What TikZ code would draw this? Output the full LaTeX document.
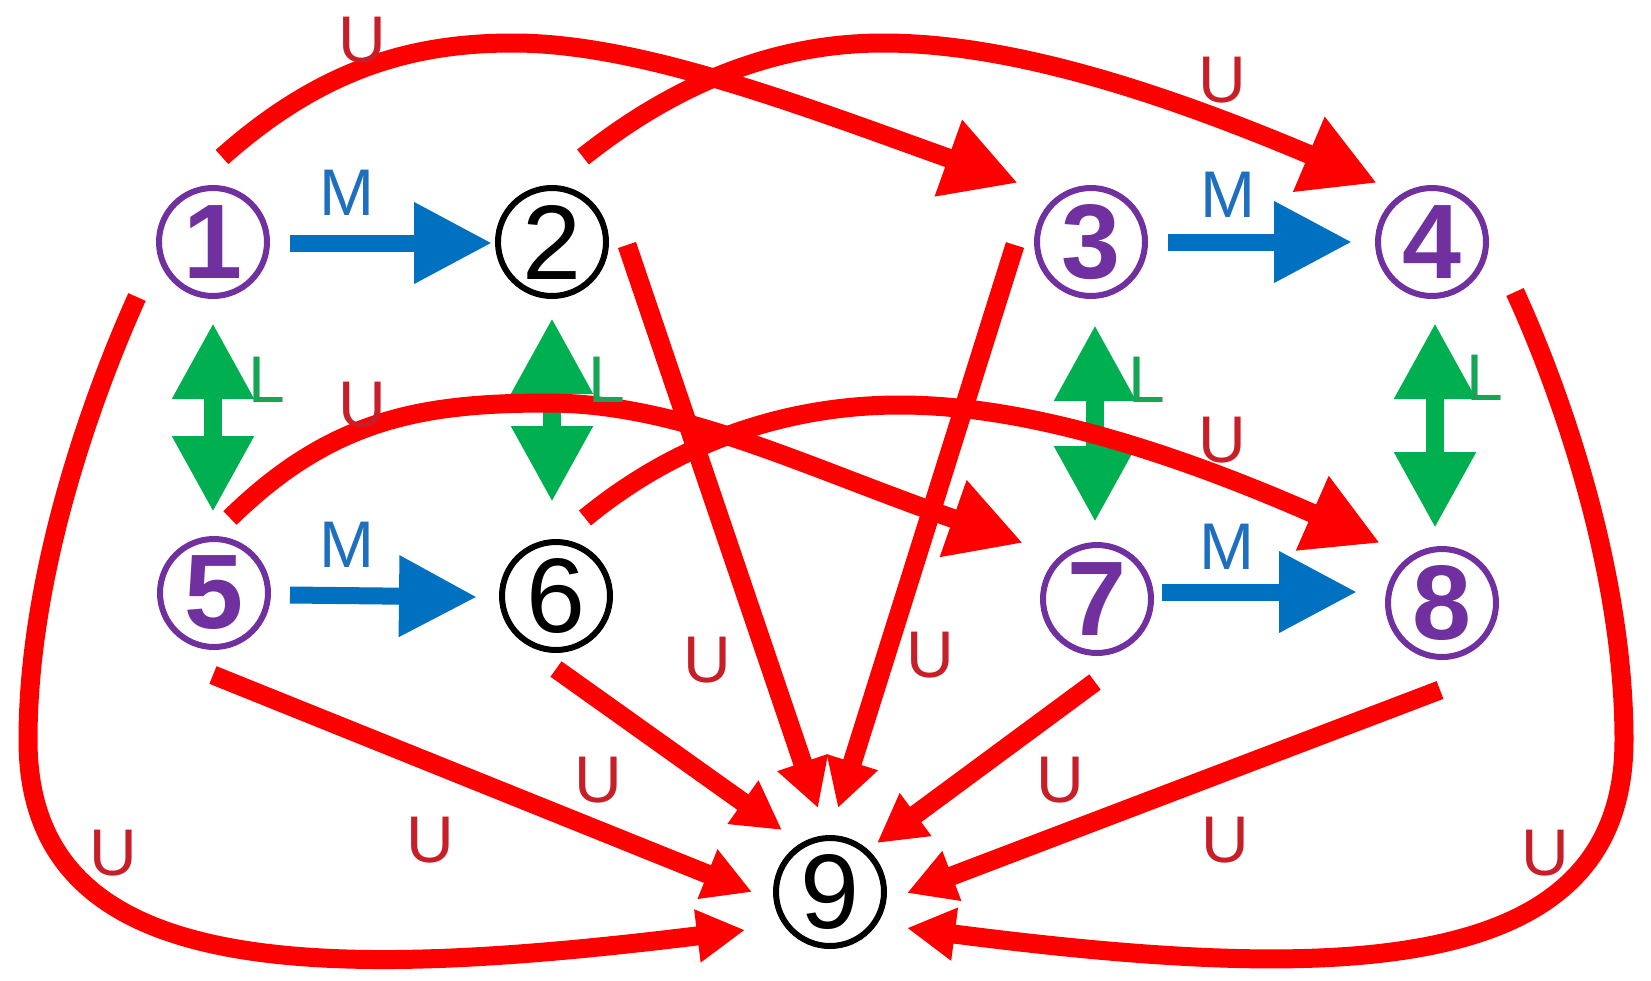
\documentclass[tikz,border=0pt]{standalone}
\usepackage{fontspec}
\setmainfont{Liberation Sans}
\usetikzlibrary{arrows.meta,calc}
\definecolor{cpurple}{RGB}{112,48,160}
\definecolor{cblue}{RGB}{0,112,192}
\definecolor{cmblue}{RGB}{30,112,190}
\definecolor{cgreen}{RGB}{0,176,80}
\definecolor{clgreen}{RGB}{20,165,85}
\definecolor{cred}{RGB}{255,0,0}
\definecolor{cdred}{RGB}{200,30,40}
\begin{document}
\begin{tikzpicture}[x=1pt,y=-1pt,
  numnode/.style={circle,draw,line width=6pt,minimum size=108pt,inner sep=0pt},
  pnode/.style={numnode,draw=cpurple,text=cpurple,font=\fontsize{106}{106}\selectfont\bfseries},
  knode/.style={numnode,draw=black,text=black,font=\fontsize{106}{106}\selectfont},
  marrow/.style={line width=17pt,draw=cblue,-{Triangle[length=78pt,width=77pt]}},
  larrow/.style={line width=18pt,draw=cgreen,{Triangle[length=76pt,width=77pt]}-{Triangle[length=76pt,width=77pt]}},
  uarc/.style={line width=19pt,draw=cred,-{Triangle[length=74pt,width=76pt]}},
  uline/.style={line width=19pt,draw=cred,-{Triangle[length=48pt,width=50pt]}},
  ulab/.style={text=cdred,font=\fontsize{66}{66}\selectfont,inner sep=0pt},
  mlab/.style={text=cmblue,font=\fontsize{66}{66}\selectfont,inner sep=0pt},
  llab/.style={text=clgreen,font=\fontsize{66}{66}\selectfont,inner sep=0pt}
]
\useasboundingbox (0,0) rectangle (1651,980);
\fill[white] (0,0) rectangle (1651,980);

% nodes
\node[pnode] (n1) at (213,242) {1};
\node[knode] (n2) at (552,242) {2};
\node[pnode] (n3) at (1091,242) {3};
\node[pnode] (n4) at (1432,242) {4};
\node[pnode] (n5) at (214,593) {5};
\node[knode] (n6) at (556,596) {6};
\node[pnode] (n7) at (1097,599) {7};
\node[pnode] (n8) at (1442,603) {8};
\node[knode] (n9) at (830,892) {9};

% M arrows
\draw[marrow] ($(n1)+(77,1)$) -- ($(n2)+(-60,1)$);
\draw[marrow] ($(n3)+(77,0)$) -- ($(n4)+(-80,0)$);
\draw[marrow] ($(n5)+(76,2)$) -- ($(n6)+(-79,1)$);
\draw[marrow] ($(n7)+(65,-7)$) -- ($(n8)+(-85,-11)$);

% L arrows
\draw[larrow] ($(n1)+(0,81)$) -- ($(n5)+(-1,-81)$);
\draw[larrow] ($(n2)+(0,76)$) -- ($(n6)+(-4,-94)$);
\draw[larrow] ($(n3)+(4,83)$) -- ($(n7)+(-2,-77)$);
\draw[larrow] ($(n4)+(3,81)$) -- ($(n8)+(-7,-75)$);

% U arcs
\draw[uarc] ($(n1)+(9,-85)$) .. controls (320,70) and (410,43) .. (513,43)
  .. controls (640,43) and (800,105) .. ($(n3)+(-73,-59)$);
\draw[uarc] ($(n2)+(31,-85)$) .. controls (680,80) and (780,43) .. (883,43)
  .. controls (1020,43) and (1180,100) .. ($(n4)+(-55,-59)$);
\draw[uarc] ($(n5)+(16,-75)$) .. controls (330,420) and (420,403) .. (547,403)
  .. controls (680,403) and (800,465) .. ($(n7)+(-74,-56)$);
\draw[uarc] ($(n6)+(29,-78)$) .. controls (680,440) and (790,405) .. (900,405)
  .. controls (1030,405) and (1180,455) .. ($(n8)+(-62,-60)$);

% U lines to 9
\draw[uline] ($(n2)+(75,3)$) -- ($(n9)+(-12,-84)$);
\draw[uline] ($(n3)+(-76,3)$) -- ($(n9)+(8,-84)$);
\draw[uline] ($(n5)+(-1,82)$) -- ($(n9)+(-78,0)$);
\draw[uline] ($(n6)+(0,73)$) -- ($(n9)+(-48,-62)$);
\draw[uline] ($(n7)+(-2,83)$) -- ($(n9)+(47,-49)$);
\draw[uline] ($(n8)+(-2,87)$) -- ($(n9)+(77,1)$);
\draw[uline] ($(n1)+(-76,55)$) .. controls (95,390) and (28,570) .. (28,740)
  .. controls (28,975) and (300,985) .. ($(n9)+(-85,38)$);
\draw[uline] ($(n4)+(83,50)$) .. controls (1560,390) and (1624,570) .. (1624,740)
  .. controls (1624,975) and (1350,985) .. ($(n9)+(77,36)$);

% labels
\node[mlab] (m1) at (347,193) {M};
\node[mlab] (m2) at (1228,195) {M};
\node[mlab] (m3) at (347,545) {M};
\node[mlab] (m4) at (1227,547) {M};
\node[llab] (l1) at (267,380) {L};
\node[llab] (l2) at (607,380) {L};
\node[llab] (l3) at (1147,380) {L};
\node[llab] (l4) at (1485,378) {L};
\node[ulab] (u1) at (362,40) {U};
\node[ulab] (u2) at (1222,80) {U};
\node[ulab] (u3) at (362,405) {U};
\node[ulab] (u4) at (1222,440) {U};
\node[ulab] (u5) at (707,660) {U};
\node[ulab] (u6) at (930,655) {U};
\node[ulab] (u7) at (598,780) {U};
\node[ulab] (u8) at (1060,780) {U};
\node[ulab] (u9) at (430,840) {U};
\node[ulab] (u10) at (1225,840) {U};
\node[ulab] (u11) at (113,853) {U};
\node[ulab] (u12) at (1545,853) {U};
\end{tikzpicture}
\end{document}
